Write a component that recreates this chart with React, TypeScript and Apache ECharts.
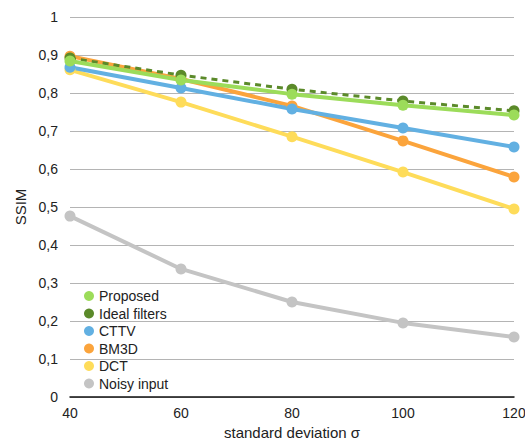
import React, { useEffect, useRef } from "react";
import * as echarts from "echarts";

const sigma = [40, 60, 80, 100, 120];
const proposed = [0.884, 0.834, 0.797, 0.768, 0.742];
const idealFilters = [0.892, 0.847, 0.81, 0.779, 0.753];
const cttv = [0.868, 0.813, 0.758, 0.708, 0.658];
const bm3d = [0.897, 0.837, 0.766, 0.674, 0.579];
const dct = [0.861, 0.776, 0.685, 0.592, 0.495];
const noisy = [0.476, 0.337, 0.25, 0.195, 0.158];

const FONT = "'Liberation Sans', Arial, sans-serif";

export default function App() {
  const ref = useRef<HTMLDivElement>(null);
  useEffect(() => {
    if (!ref.current) return;
    document.body.style.margin = "0";
    document.body.style.overflow = "hidden";
    const chart = echarts.init(ref.current, undefined, { renderer: "svg" });
    const mk = (name: string, vals: number[], color: string, dashed = false, width = 4) => ({
      name,
      type: "line",
      data: sigma.map((s, i) => [s, vals[i]]),
      symbol: "circle",
      symbolSize: 11,
      itemStyle: { color },
      lineStyle: { color, width, type: dashed ? [6, 5] : "solid" },
    });
    chart.setOption({
      animation: false,
      textStyle: { fontFamily: FONT },
      grid: { left: 70, right: 11, top: 17, bottom: 46, outerBoundsMode: "none", containLabel: false },
      legend: {
        orient: "vertical",
        left: 79,
        top: 284,
        padding: 5,
        icon: "circle",
        itemWidth: 10,
        itemHeight: 10,
        itemGap: 3.5,
        textStyle: { fontSize: 14, color: "#222", fontFamily: FONT, lineHeight: 14 },
        data: ["Proposed", "Ideal filters", "CTTV", "BM3D", "DCT", "Noisy input"],
      },
      xAxis: {
        type: "value",
        min: 40,
        max: 120,
        interval: 20,
        name: "standard deviation σ",
        nameLocation: "middle",
        nameGap: 27,
        nameTextStyle: { fontSize: 15, color: "#222", fontFamily: FONT },
        axisLine: { show: true, lineStyle: { color: "#111", width: 1.5 } },
        axisTick: { show: false },
        splitLine: { show: false },
        axisLabel: { fontSize: 14, color: "#222", margin: 9, fontFamily: FONT },
      },
      yAxis: {
        type: "value",
        min: 0,
        max: 1,
        interval: 0.1,
        name: "SSIM",
        nameLocation: "middle",
        nameGap: 42,
        nameRotate: 90,
        nameTextStyle: { fontSize: 15, color: "#222", fontFamily: FONT },
        axisLine: { show: false },
        axisTick: { show: false },
        splitLine: { show: true, lineStyle: { color: "#b4b4b4", width: 1 } },
        axisLabel: {
          fontSize: 14,
          color: "#222",
          margin: 12,
          fontFamily: FONT,
          formatter: (v: number) => (Math.round(v * 10) / 10).toString().replace(".", ","),
        },
      },
      series: [
        mk("Noisy input", noisy, "#c4c4c4"),
        mk("DCT", dct, "#fedc5a"),
        mk("BM3D", bm3d, "#fba43c"),
        mk("CTTV", cttv, "#62b0e2"),
        mk("Ideal filters", idealFilters, "#5b8a2a", true, 3),
        mk("Proposed", proposed, "#9cdc5a"),
      ],
    });
    return () => chart.dispose();
  }, []);
  return <div ref={ref} style={{ width: 525, height: 443 }} />;
}
